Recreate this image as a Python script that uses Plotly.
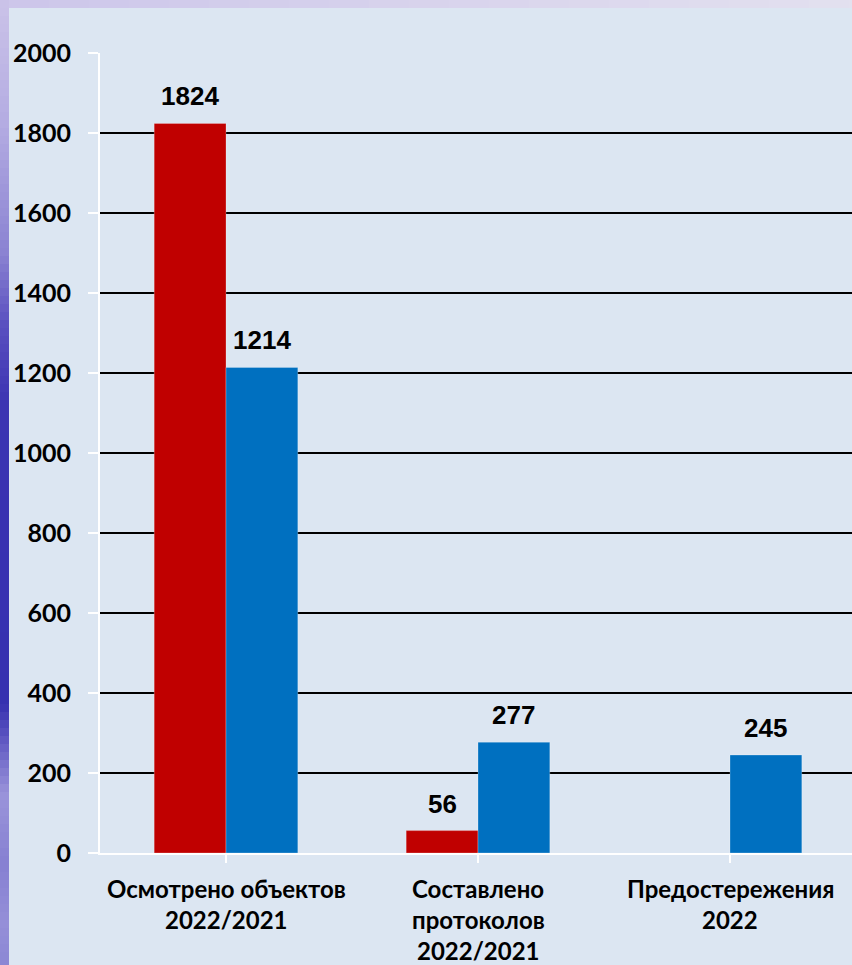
import plotly.graph_objects as go

# ---- data ----
categories = ["Осмотрено объектов\n2022/2021", "Составлено\nпротоколов\n2022/2021", "Предостережения\n2022"]
label_lines = [["Осмотрено объектов", "2022/2021"],
               ["Составлено", "протоколов", "2022/2021"],
               ["Предостережения", "2022"]]
red_values = [1824, 56, None]
blue_values = [1214, 277, 245]
y_ticks = [0, 200, 400, 600, 800, 1000, 1200, 1400, 1600, 1800, 2000]

# ---- layout geometry ----
W, H = 852, 965
ML, MR, MT, MB = 100, 0, 53, 112
PW, PH = W - ML - MR, H - MT - MB
BARGAP = 0.43
cat_px = 252.0
xmax = -0.5 + PW / cat_px

def px_x(p):
    return (p - ML) / PW

def px_y(p):
    return (H - MB - p) / PH

def hexrgb(h):
    h = h.lstrip("#")
    return tuple(int(h[i:i + 2], 16) for i in (0, 2, 4))

def mix(c1, c2, t):
    a, b = hexrgb(c1), hexrgb(c2)
    return "rgb(%d,%d,%d)" % tuple(round(a[i] + (b[i] - a[i]) * t) for i in range(3))

shapes = []
# light panel
shapes.append(dict(type="rect", xref="paper", yref="paper", layer="below",
                   x0=px_x(9), x1=px_x(W + 5), y0=px_y(H + 5), y1=px_y(8),
                   fillcolor="#dce6f2", line_width=0))
# left gradient stripe
stops = [(0, "#cac2e8"), (120, "#b4ace2"), (250, "#8a82d2"), (320, "#5a50c0"),
         (400, "#3b33b2"), (700, "#3631b0"), (745, "#6a62c6"), (790, "#9a94da"),
         (860, "#8680d2"), (920, "#958fd8"), (965, "#8a86d4")]
step = 8
for y in range(0, H, step):
    for (ya, ca), (yb, cb) in zip(stops[:-1], stops[1:]):
        if ya <= y < yb:
            col = mix(ca, cb, (y - ya) / (yb - ya))
            break
    shapes.append(dict(type="rect", xref="paper", yref="paper", layer="below",
                       x0=px_x(-2), x1=px_x(9), y0=px_y(y + step), y1=px_y(y),
                       fillcolor=col, line_width=0))
# top stripe gradient
for x in range(9, W, 40):
    col = mix("#cdc6ea", "#e3e1ef", x / W)
    shapes.append(dict(type="rect", xref="paper", yref="paper", layer="below",
                       x0=px_x(x), x1=px_x(x + 40), y0=px_y(8), y1=px_y(-2),
                       fillcolor=col, line_width=0))

xs = list(range(len(categories)))
bw = (1 - BARGAP) / 2

fig = go.Figure()
fig.add_trace(go.Bar(x=xs, y=red_values, marker=dict(color="#c00000", line=dict(color="rgba(255,255,255,0.25)", width=1)),
                     name="2022"))
fig.add_trace(go.Bar(x=xs, y=blue_values, marker=dict(color="#0070c0", line=dict(color="rgba(255,255,255,0.25)", width=1)),
                     name="2021"))

annotations = []
label_font = dict(family="Liberation Sans Narrow, Arial Narrow, Liberation Sans, sans-serif",
                  size=26, color="#000000", weight="bold")
for vals, off in ((red_values, -bw / 2), (blue_values, bw / 2)):
    for i, v in enumerate(vals):
        if v is None:
            continue
        annotations.append(dict(x=i + off, y=v, xref="x", yref="y", text=str(v),
                                showarrow=False, yanchor="bottom", yshift=10, font=label_font))

cat_font = dict(family="Lato, Noto Sans, sans-serif", size=24, color="#000000", weight="bold")
for i, lines in enumerate(label_lines):
    for j, line in enumerate(lines):
        annotations.append(dict(x=i, y=0, xref="x", yref="paper", text=line, showarrow=False,
                                yanchor="middle", yshift=-35 - 31 * j, font=cat_font))

fig.update_layout(
    width=W, height=H,
    margin=dict(l=ML, r=MR, t=MT, b=MB, pad=0),
    paper_bgcolor="#dce6f2",
    plot_bgcolor="rgba(0,0,0,0)",
    barmode="group", bargap=BARGAP, bargroupgap=0,
    showlegend=False,
    shapes=shapes,
    annotations=annotations,
    xaxis=dict(range=[-0.5, xmax], showgrid=False, zeroline=False,
               showline=True, linecolor="#ffffff", linewidth=2,
               ticks="outside", tickson="boundaries", tickcolor="#ffffff",
               ticklen=8, tickwidth=2, showticklabels=False, tickvals=xs),
    yaxis=dict(range=[0, 2000], tickvals=y_ticks, showgrid=True, gridcolor="#000000",
               gridwidth=1.5, zeroline=False, showline=True, linecolor="#ffffff",
               linewidth=2, ticks="outside", tickcolor="#ffffff", ticklen=10, tickwidth=2,
               ticklabelstandoff=12,
               tickfont=dict(family="Lato, Noto Sans, sans-serif", size=25,
                             color="#000000", weight="bold")),
)

fig.write_html("out.html", config={"displayModeBar": False},
               post_script="document.body.style.margin='0';document.body.style.overflow='hidden';")
